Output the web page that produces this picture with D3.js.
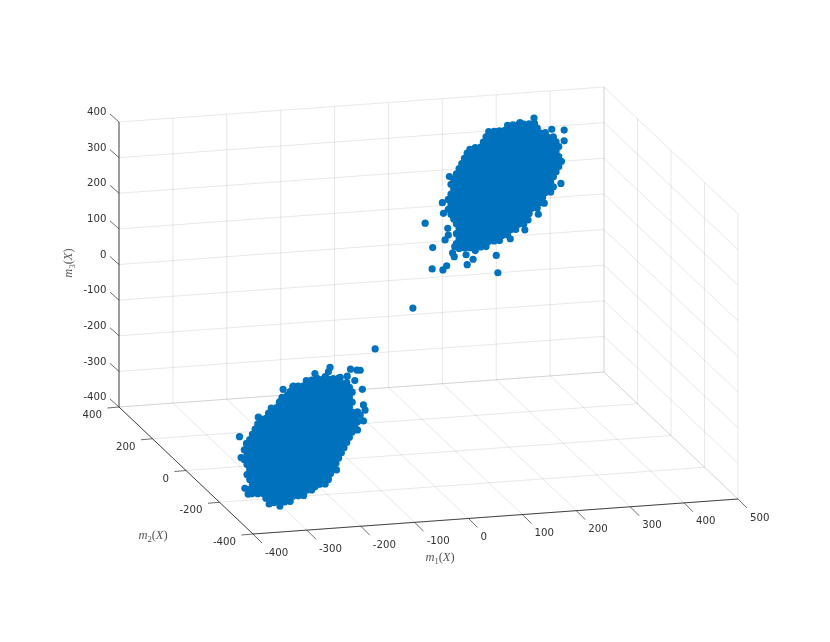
<!DOCTYPE html>
<html>
<head>
<meta charset="utf-8">
<script src="https://cdn.jsdelivr.net/npm/d3@7"></script>
<style>
html,body{margin:0;padding:0;background:#fff;}
svg{display:block;filter:blur(0.4px);}
text{font-family:"DejaVu Sans",sans-serif;font-size:10.2px;fill:#333;}
.math{font-family:"Liberation Serif",serif;font-size:12.5px;fill:#555;}
</style>
</head>
<body>
<svg id="chart" width="830" height="642"></svg>
<script>
// Tick values
const m1Ticks = [-400,-300,-200,-100,0,100,200,300,400,500];
const m2Ticks = [-400,-200,0,200,400];
const m3Ticks = [-400,-300,-200,-100,0,100,200,300,400];

// Lower cluster (depth estimated at one m2 value); one m1 list per m3 level
const lowerM2 = -300;
const lowerM3Levels = [-28,-42,-56,-70,-84,-98,-112,-126,-140,-154,-168,-182,-196,-210,-224,-238,-252,-266,-280,-294,-308,-322,-336,-350,-364];
const lowerM1ByLevel = [
[-270,-260,-250,-240,-230,-220,-210],
[-295,-285,-275,-265,-255,-245,-235,-225,-215,-205,-195],
[-300,-290,-280,-270,-260,-250,-240,-230,-220,-210,-200,-190],
[-315,-305,-295,-285,-275,-265,-255,-245,-235,-225,-215,-205,-195,-185],
[-320,-310,-300,-290,-280,-270,-260,-250,-240,-230,-220,-210,-200,-190],
[-335,-325,-315,-305,-295,-285,-275,-265,-255,-245,-235,-225,-215,-205,-195,-185],
[-340,-330,-320,-310,-300,-290,-280,-270,-260,-250,-240,-230,-220,-210,-200,-190],
[-355,-345,-335,-325,-315,-305,-295,-285,-275,-265,-255,-245,-235,-225,-215,-205,-195,-185,-175],
[-360,-350,-340,-330,-320,-310,-300,-290,-280,-270,-260,-250,-240,-230,-220,-210,-200,-190,-180],
[-365,-355,-345,-335,-325,-315,-305,-295,-285,-275,-265,-255,-245,-235,-225,-215,-205,-195,-185,-175],
[-370,-360,-350,-340,-330,-320,-310,-300,-290,-280,-270,-260,-250,-240,-230,-220,-210,-200,-190,-180],
[-375,-365,-355,-345,-335,-325,-315,-305,-295,-285,-275,-265,-255,-245,-235,-225,-215,-205,-195,-185],
[-380,-370,-360,-350,-340,-330,-320,-310,-300,-290,-280,-270,-260,-250,-240,-230,-220,-210,-200,-190],
[-385,-375,-365,-355,-345,-335,-325,-315,-305,-295,-285,-275,-265,-255,-245,-235,-225,-215,-205,-195],
[-380,-370,-360,-350,-340,-330,-320,-310,-300,-290,-280,-270,-260,-250,-240,-230,-220,-210,-200],
[-385,-375,-365,-355,-345,-335,-325,-315,-305,-295,-285,-275,-265,-255,-245,-235,-225,-215,-205],
[-380,-370,-360,-350,-340,-330,-320,-310,-300,-290,-280,-270,-260,-250,-240,-230,-220,-210],
[-375,-365,-355,-345,-335,-325,-315,-305,-295,-285,-275,-265,-255,-245,-235,-225,-215],
[-380,-370,-360,-350,-340,-330,-320,-310,-300,-290,-280,-270,-260,-250,-240,-230,-220],
[-375,-365,-355,-345,-335,-325,-315,-305,-295,-285,-275,-265,-255,-245,-235,-225],
[-370,-360,-350,-340,-330,-320,-310,-300,-290,-280,-270,-260,-250,-240,-230],
[-375,-365,-355,-345,-335,-325,-315,-305,-295,-285,-275,-265,-255,-245,-235],
[-360,-350,-340,-330,-320,-310,-300,-290,-280,-270,-260],
[-345,-335,-325,-315,-305,-295,-285,-275],
[-330,-320,-310,-300]
];
const lowerEdgeM1 = [-394,-391,-381,-313,-305,-294,-288,-359,-319,-226,-229,-254,-250,-188,-176,-170,-166,-180,-194,-207,-235,-161,-164,-164,-175,-170,-229,-254,-319,-339,-378,-384,-371,-214];
const lowerEdgeM3 = [-172,-231,-192,-48,-65,-41,-47,-121,-82,4,-8,-10,-24,-5,-9,-10,-64,-38,-24,-26,-21,-123,-108,-153,-177,-136,-310,-328,-375,-367,-335,-318,-335,-285];

// Upper cluster
const upperM2 = 300;
const upperM3Levels = [360,346,332,318,304,290,276,262,248,234,220,206,192,178,164,150,136,122,108,94,80,66,52,38,24];
const upperM1ByLevel = [
[290,300,310,320,330,340],
[255,265,275,285,295,305,315,325,335,345],
[250,260,270,280,290,300,310,320,330,340,350,360],
[245,255,265,275,285,295,305,315,325,335,345,355,365,375],
[230,240,250,260,270,280,290,300,310,320,330,340,350,360,370,380],
[215,225,235,245,255,265,275,285,295,305,315,325,335,345,355,365,375,385],
[210,220,230,240,250,260,270,280,290,300,310,320,330,340,350,360,370,380],
[205,215,225,235,245,255,265,275,285,295,305,315,325,335,345,355,365,375,385],
[200,210,220,230,240,250,260,270,280,290,300,310,320,330,340,350,360,370,380,390],
[195,205,215,225,235,245,255,265,275,285,295,305,315,325,335,345,355,365,375,385],
[190,200,210,220,230,240,250,260,270,280,290,300,310,320,330,340,350,360,370,380],
[185,195,205,215,225,235,245,255,265,275,285,295,305,315,325,335,345,355,365,375],
[190,200,210,220,230,240,250,260,270,280,290,300,310,320,330,340,350,360,370],
[185,195,205,215,225,235,245,255,265,275,285,295,305,315,325,335,345,355,365,375],
[180,190,200,210,220,230,240,250,260,270,280,290,300,310,320,330,340,350,360,370],
[185,195,205,215,225,235,245,255,265,275,285,295,305,315,325,335,345,355],
[180,190,200,210,220,230,240,250,260,270,280,290,300,310,320,330,340,350],
[185,195,205,215,225,235,245,255,265,275,285,295,305,315,325,335,345],
[190,200,210,220,230,240,250,260,270,280,290,300,310,320,330],
[195,205,215,225,235,245,255,265,275,285,295,305,315,325],
[200,210,220,230,240,250,260,270,280,290,300,310,320],
[195,205,215,225,235,245,255,265,275,285,295,305],
[200,210,220,230,240,250,260,270,280,290],
[195,205,215,225,235,245,255,265,275],
[200,210,220,230,240,250]
];
const upperEdgeM1 = [137,169,151,150,170,177,215,226,269,272,188,191,213,230,174,180,179,171,295,322,347,358,389,395,395,339,313,372,270,220,230,182,328,192,200];
const upperEdgeM3 = [102,156,32,-28,-33,-22,-23,-9,-3,-52,13,2,5,15,51,64,83,126,41,63,104,134,186,305,335,375,365,340,344,300,292,228,90,30,39];

// Two stragglers between the clusters
const midM1 = [-49,21];
const midM2 = [0,0];
const midM3 = [-97,10];

// Orthographic projection of the box, built from linear scales
const m1X = d3.scaleLinear().domain([-400,500]).range([253,738]);
const m1Y = d3.scaleLinear().domain([-400,500]).range([534,499]);
const m2X = d3.scaleLinear().domain([-400,400]).range([0,-134]);
const m2Y = d3.scaleLinear().domain([-400,400]).range([0,-127]);
const m3Y = d3.scaleLinear().domain([-400,400]).range([0,-285]);
const px = (a,b) => m1X(a) + m2X(b);
const py = (a,b,c) => m1Y(a) + m2Y(b) + m3Y(c);

const svg = d3.select("#chart");
const pointColor = "#0072BD", axisColor = "#262626";

// Grid
const gridSegs = [];
const seg = (p,q) => gridSegs.push([p,q]);
m1Ticks.forEach(t => {
  seg([t,400,-400],[t,400,400]);
  seg([t,-400,-400],[t,400,-400]);
});
m2Ticks.forEach(t => {
  seg([-400,t,-400],[500,t,-400]);
  seg([500,t,-400],[500,t,400]);
});
m3Ticks.forEach(t => {
  seg([-400,400,t],[500,400,t]);
  seg([500,400,t],[500,-400,t]);
});
const drawSeg = (sel, data, color, width, opacity) => sel.selectAll(null).data(data).join("line")
  .attr("x1",d=>px(d[0][0],d[0][1])).attr("y1",d=>py(d[0][0],d[0][1],d[0][2]))
  .attr("x2",d=>px(d[1][0],d[1][1])).attr("y2",d=>py(d[1][0],d[1][1],d[1][2]))
  .attr("stroke",color).attr("stroke-width",width).attr("stroke-opacity",opacity);
drawSeg(svg.append("g"), gridSegs, axisColor, 0.9, 0.12);

// Axis lines
drawSeg(svg.append("g"), [
  [[-400,400,-400],[-400,400,400]],
  [[-400,400,-400],[-400,-400,-400]],
  [[-400,-400,-400],[500,-400,-400]]
], axisColor, 0.9, 0.95);

// Ticks
const tickG = svg.append("g").attr("stroke",axisColor).attr("stroke-width",0.8).attr("stroke-opacity",0.85);
const addTick = (x,y,dx,dy) => tickG.append("line").attr("x1",x).attr("y1",y).attr("x2",x+dx).attr("y2",y+dy);
const labels = svg.append("g");
m1Ticks.forEach(t => {
  const x = px(t,-400), y = py(t,-400,-400);
  addTick(x,y,9,9);
  labels.append("text").attr("x",x+12).attr("y",y+21.5).attr("text-anchor","start").text(t);
});
m2Ticks.forEach(t => {
  const x = px(-400,t), y = py(-400,t,-400);
  addTick(x,y,-11.5,1);
  labels.append("text").attr("x",x-17).attr("y",y+11).attr("text-anchor","end").text(t);
});
m3Ticks.forEach(t => {
  const x = px(-400,400), y = py(-400,400,t);
  addTick(x,y,-9,-8);
  labels.append("text").attr("x",x-12.5).attr("y",y-6.8).attr("text-anchor","end").text(t);
});

// Axis titles
function mathLabel(x,y,sub,rotate){
  const t = svg.append("text").attr("class","math").attr("text-anchor","middle")
    .attr("transform",`translate(${x},${y})` + (rotate?` rotate(${rotate})`:""));
  t.append("tspan").attr("font-style","italic").text("m");
  t.append("tspan").attr("dy",2.5).attr("font-size","8.5px").text(sub);
  t.append("tspan").attr("dy",-2.5).text("(");
  t.append("tspan").attr("font-style","italic").text("X");
  t.append("tspan").text(")");
}
mathLabel(440,561,"1");
mathLabel(153,539,"2");
mathLabel(72,263,"3",-90);

// Points
const points = [];
lowerM3Levels.forEach((z,i) => lowerM1ByLevel[i].forEach(a => points.push([a,lowerM2,z])));
lowerEdgeM1.forEach((a,i) => points.push([a,lowerM2,lowerEdgeM3[i]]));
upperM3Levels.forEach((z,i) => upperM1ByLevel[i].forEach(a => points.push([a,upperM2,z])));
upperEdgeM1.forEach((a,i) => points.push([a,upperM2,upperEdgeM3[i]]));
midM1.forEach((a,i) => points.push([a,midM2[i],midM3[i]]));

svg.append("g").attr("fill",pointColor).selectAll("circle").data(points).join("circle")
  .attr("cx",d=>px(d[0],d[1])).attr("cy",d=>py(d[0],d[1],d[2])).attr("r",3.6);
</script>
</body>
</html>
